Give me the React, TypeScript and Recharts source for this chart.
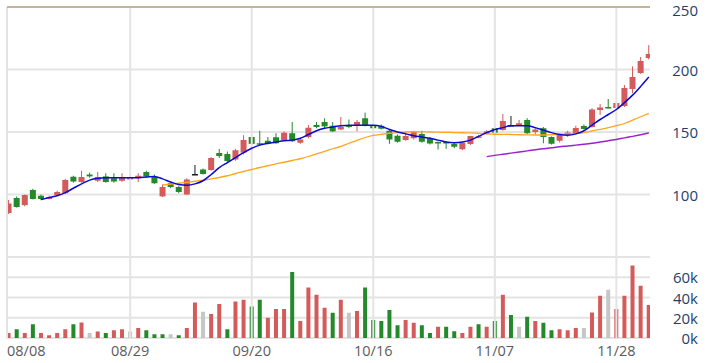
import { ComposedChart, Bar, Line, XAxis, YAxis, CartesianGrid, ReferenceLine, Cell } from 'recharts';

const RED = '#d45b5b';
const GREEN = '#24892a';
const GREY = '#c6c6c6';
const DOJI = '#1a1a1a';
const AXIS_TEXT = '#1e3f6e';
const DATE_TEXT = '#5c5c5c';
const GRID = '#e4e4e4';

const dateTicks = [0, 15, 30, 45, 60, 75];
const dateLabels = ['08/08', '08/29', '09/20', '10/16', '11/07', '11/28'];
const priceTicks = [50, 100, 150, 200, 250];
const volTicks = [0, 20, 40, 60, 80];

const opens = [
  85.2, 97.2, 91.5, 103.6, 99, 96.4, 99.6, 101, 114.2, 110,
  116, 111, 114.5, 113, 111, 112, 113, 118, 114, 98.5,
  109, 106, 100, 116.4, 120, 119.6, 133.2, 132.4, 128, 133.5,
  146, 141, 143, 145.8, 143.6, 149, 141.4, 146, 155.6, 158,
  155, 152, 155.5, 155, 161, 155.6, 155, 151, 147, 143.6,
  145, 148.4, 145, 142, 142, 140.5, 136.2, 140.4, 145.5, 148.5,
  153, 151.6, 155.6, 155.6, 159.6, 150, 153, 146, 143, 147.6,
  148.4, 154.8, 154, 167.6, 170, 169.2, 170.8, 184.4, 197.2, 209.2,
];
const highs = [
  95.6, 98.5, 100, 104.6, 100, 99, 103, 112.5, 115, 119,
  117.5, 118, 117, 117, 117, 115, 117, 119, 116, 108,
  109.6, 107, 113, 123.6, 120.8, 130, 136.4, 134.4, 136.5, 147.5,
  147, 151, 146, 149, 150.5, 158, 145, 155.6, 158, 161,
  158, 162, 160, 159.6, 165.5, 156.5, 156, 152, 148, 150,
  151, 151, 146, 142.5, 142.5, 141.5, 142, 147, 147.6, 151.5,
  156, 164.4, 162.8, 159.6, 161, 154, 154, 146.5, 148, 151,
  155, 156, 169, 172.4, 176.4, 174, 187.6, 202.5, 210, 219.5,
];
const lows = [
  84.5, 89.5, 90.5, 96, 95.5, 96, 99, 100.5, 109.5, 109.5,
  113.5, 110, 109.5, 109.5, 110, 111, 110, 113.5, 108.5, 98,
  105, 101, 99.6, 116.4, 116, 119, 129.2, 126, 127, 132,
  139.5, 139.5, 140, 140.5, 143, 142, 140.5, 145, 153, 153,
  150, 151.5, 153, 150.5, 154.5, 152, 152, 140.5, 141.5, 143,
  144, 141.5, 140, 136, 136.5, 137, 135.5, 139.5, 145, 148,
  148.5, 151, 155.6, 155, 148.5, 148, 141, 140, 141.6, 146,
  148, 152, 153.5, 163.6, 168.8, 168.5, 170, 181, 196.5, 208,
];
const closes = [
  92.8, 90, 99.6, 96.4, 96.4, 98, 102, 111.6, 110.4, 114,
  114.5, 114, 110, 110.4, 114, 114, 115, 114.5, 109, 106,
  106, 102, 112, 116.4, 116.4, 129.2, 130.8, 126.8, 135.4, 143.6,
  140.5, 140, 140.8, 141, 149.4, 142.6, 144, 153.4, 154, 154.5,
  150.5, 154, 154, 158, 155, 153, 152.6, 144, 142.2, 146.8,
  150, 142.2, 140.8, 141.2, 140.8, 138.2, 141.4, 146.8, 146.5, 150.5,
  149.5, 158.8, 155.6, 157, 149, 152, 146, 140.6, 147.6, 149.6,
  153.2, 152.4, 168, 169.6, 169.2, 173.2, 185.2, 194, 206.8, 212.4,
];

// volume in thousands
const volumes = [
  5, 8.7, 5, 13.7, 5, 2.7, 5, 8.7, 13.7, 15.3,
  5, 6.3, 5, 7.7, 8.7, 6.3, 10, 7.7, 3.7, 3.7,
  3.7, 2.7, 10, 35, 26, 23.7, 33.7, 8.7, 36, 37.7,
  31, 37.7, 20, 28.7, 28.7, 65.3, 16.7, 50, 42.7, 30,
  25, 37.7, 25, 26.7, 50, 17.7, 16.7, 27.7, 12.7, 17.7,
  15, 12.7, 5, 11, 11, 6.7, 5, 11, 13.7, 11,
  16.7, 42.7, 22.7, 11, 21, 16.7, 15, 7.7, 8.7, 7.7,
  10, 10, 25.3, 41.7, 47.7, 28.7, 41.7, 71.7, 51.7, 32.7,
];
// u = up, d = down, n = unchanged
const volDir = (
  'ududuuuudu' + 'nuduunuddd' + 'nduunuuduu' + 'dduuuduuuu' +
  'dunuddddd' + 'u' + 'uddudduudu' + 'dudndudduu' + 'unuunuuuuu'
).split('');

const ma5 = [
  null, null, null, null, 96, 97.5, 99, 101.5, 105, 108.5,
  111.5, 113, 113.5, 113.5, 113.5, 113.5, 113.5, 114, 114.5, 112.5,
  110, 108, 107.5, 108.5, 111, 116, 121.5, 125.5, 129.5, 133.5,
  137, 139.5, 141, 142, 143, 143.5, 145, 148, 151, 153,
  154, 155, 155.5, 155.5, 155.5, 155.5, 154.5, 152, 150, 148.5,
  147, 146, 145, 143.5, 142, 141.5, 142, 143.5, 146.5, 149.5,
  152, 153.5, 155, 155, 155, 153.5, 151.5, 149.5, 148, 147.5,
  148.5, 151, 155.5, 160, 164, 168, 173.5, 179.5, 186.5, 194,
];
const ma20 = [
  null, null, null, null, null, null, null, null, null, null,
  null, null, null, null, null, null, null, null, null, 107.6,
  108.3, 109, 109.8, 110.6, 111.4, 112.5, 113.6, 115, 116.8, 118.4,
  120, 121.6, 123, 124.5, 125.8, 127.2, 128.6, 130.4, 132.5, 134.5,
  136.6, 138.5, 141, 143.3, 145.6, 147.3, 148.2, 149, 149.5, 150,
  150.2, 150.1, 150, 149.9, 149.7, 149.5, 149.4, 149.3, 148.9, 148.5,
  148.2, 148.1, 148, 147.8, 147.7, 147.6, 147.6, 147.9, 148.2, 148.5,
  148.9, 149.6, 150.9, 152.1, 153.5, 155.1, 156.8, 159.5, 162.2, 164.9,
];
const ma60 = [
  null, null, null, null, null, null, null, null, null, null,
  null, null, null, null, null, null, null, null, null, null,
  null, null, null, null, null, null, null, null, null, null,
  null, null, null, null, null, null, null, null, null, null,
  null, null, null, null, null, null, null, null, null, null,
  null, null, null, null, null, null, null, null, null, 130.3,
  131.3, 132.2, 133.1, 134, 134.9, 135.8, 136.6, 137.4, 138.2, 138.8,
  139.5, 140.2, 141, 142, 143, 144, 145.3, 146.5, 147.8, 149.2,
];

const data = opens.map((o, i) => ({
  i,
  o,
  h: highs[i],
  l: lows[i],
  c: closes[i],
  range: [lows[i], highs[i]],
  vol: volumes[i],
  dir: volDir[i],
  ma5: ma5[i],
  ma20: ma20[i],
  ma60: ma60[i],
}));

const xDomain = [-0.2, 79.15];

function Candle(props: any) {
  const { x, y, width, height, payload } = props;
  const { o, h, l, c } = payload;
  const top = Math.min(y, y + height);
  const bot = Math.max(y, y + height);
  const k = h === l ? 0 : (bot - top) / (h - l);
  const yO = top + (h - o) * k;
  const yC = top + (h - c) * k;
  const color = c > o ? RED : c < o ? GREEN : DOJI;
  const cx = x + width / 2;
  const bTop = Math.min(yO, yC);
  const bH = Math.max(Math.abs(yO - yC), 1.5);
  return (
    <g>
      <line x1={cx} x2={cx} y1={top} y2={bot} stroke={color} strokeWidth={1} />
      <rect x={x} y={bTop} width={width} height={bH} fill={color} />
    </g>
  );
}

// the top label is nudged down a little so it is not clipped by the page edge
const PriceTick = ({ y, payload }: any) =>
  payload.value === 50 ? (
    <g />
  ) : (
    <text
      x={698}
      y={payload.value === 250 ? y + 3 : y}
      textAnchor="end"
      dominantBaseline="central"
      fill={AXIS_TEXT}
      fontSize={15}
    >
      {payload.value}
    </text>
  );

const VolTick = ({ y, payload }: any) =>
  payload.value === 80 ? (
    <g />
  ) : (
    <text x={698} y={y} textAnchor="end" dominantBaseline="central" fill={AXIS_TEXT} fontSize={15}>
      {`${payload.value}k`}
    </text>
  );

const DateTick = ({ x, payload, index }: any) => (
  <text
    x={index === 0 ? x - 1.6 : x}
    y={93}
    textAnchor={index === 0 ? 'start' : 'middle'}
    dominantBaseline="central"
    fill={DATE_TEXT}
    fontSize={14.5}
  >
    {dateLabels[dateTicks.indexOf(payload.value)]}
  </text>
);

export default function App() {
  return (
    <div style={{ position: 'relative', width: 707, height: 363, fontFamily: '"Open Sans", sans-serif', background: '#fff' }}>
      <style>{'body{margin:0}'}</style>
      <div style={{ position: 'absolute', left: 0, top: 0 }}>
        <ComposedChart width={707} height={258} data={data} margin={{ top: 7, right: 7, bottom: 1, left: 7 }}>
          <CartesianGrid vertical={false} stroke={GRID} strokeWidth={2} />
          <XAxis dataKey="i" type="number" domain={xDomain} allowDataOverflow hide />
          <YAxis
            orientation="right"
            domain={[50, 250]}
            ticks={priceTicks}
            interval={0}
            width={50}
            axisLine={false}
            tickLine={false}
            tick={<PriceTick />}
            allowDataOverflow
          />
          <ReferenceLine x={xDomain[0]} stroke={GRID} strokeWidth={2} />
          {dateTicks.slice(1).map(t => (
            <ReferenceLine key={t} x={t} stroke={GRID} strokeWidth={2} />
          ))}
          <ReferenceLine y={250} stroke="#b9a47e" strokeWidth={1.5} />
          <Bar dataKey="range" barSize={6} shape={<Candle />} isAnimationActive={false} />
          <Line dataKey="ma60" type="monotone" stroke="#9b22cc" strokeWidth={1.5} dot={false} isAnimationActive={false} />
          <Line dataKey="ma20" type="monotone" stroke="#ffa51c" strokeWidth={1.3} dot={false} isAnimationActive={false} />
          <Line dataKey="ma5" type="monotone" stroke="#0a0ad0" strokeWidth={1.5} dot={false} isAnimationActive={false} />
        </ComposedChart>
      </div>
      <div style={{ position: 'absolute', left: 0, top: 257 }}>
        <ComposedChart width={707} height={106} data={data} margin={{ top: 0, right: 7, bottom: 0, left: 7 }}>
          <CartesianGrid vertical={false} stroke={GRID} strokeWidth={2} />
          <XAxis
            dataKey="i"
            type="number"
            domain={xDomain}
            allowDataOverflow
            ticks={dateTicks}
            height={25}
            axisLine={false}
            tickLine={false}
            tick={<DateTick />}
            interval={0}
          />
          <YAxis
            orientation="right"
            domain={[0, 80]}
            ticks={volTicks}
            interval={0}
            width={50}
            axisLine={false}
            tickLine={false}
            tick={<VolTick />}
          />
          <ReferenceLine x={xDomain[0]} stroke={GRID} strokeWidth={2} />
          {dateTicks.slice(1).map(t => (
            <ReferenceLine key={t} x={t} stroke={GRID} strokeWidth={2} />
          ))}
          <Bar dataKey="vol" barSize={4} isAnimationActive={false}>
            {data.map((d, idx) => (
              <Cell key={idx} fill={d.dir === 'u' ? RED : d.dir === 'd' ? GREEN : GREY} />
            ))}
          </Bar>
        </ComposedChart>
      </div>
    </div>
  );
}
